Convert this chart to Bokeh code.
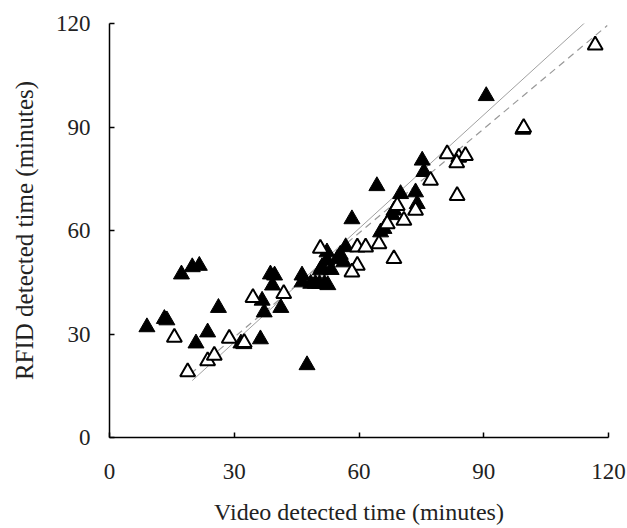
from bokeh.plotting import figure
from bokeh.models import Range1d, FixedTicker
from bokeh.embed import file_html
from bokeh.resources import INLINE

# Filled triangles (black)
filled_x = [9.0, 13.2, 13.8, 17.3, 19.9, 21.6, 20.8, 23.6, 26.2, 31.6, 32.3, 36.3,
            36.7, 37.2, 38.7, 39.7, 39.2, 41.2, 46.3, 46.3, 47.5, 48.4, 49.5, 50.5,
            51.7, 52.5, 50.7, 51.1, 52.3, 52.3, 53.3, 54.8, 56.3, 56.8, 55.5, 58.3,
            64.3, 65.2, 66.0, 68.4, 68.0, 70.0, 73.6, 74.0, 75.2, 75.6, 90.6]
filled_y = [32.0, 34.4, 34.0, 47.3, 49.4, 49.8, 27.3, 30.5, 37.6, 27.3, 27.1, 28.5,
            39.7, 36.3, 47.3, 47.0, 44.1, 37.6, 47.0, 45.0, 21.0, 44.6, 44.6, 44.6,
            44.6, 44.2, 48.5, 49.4, 51.3, 53.7, 48.6, 51.8, 50.8, 55.2, 53.0, 63.3,
            72.9, 59.5, 60.5, 65.8, 64.5, 70.6, 71.1, 67.7, 80.3, 77.0, 99.0]

# Open triangles
open_x = [15.6, 18.8, 23.6, 25.2, 28.8, 32.4, 34.5, 41.9, 50.7, 59.6, 61.6, 64.8,
          59.6, 58.3, 68.4, 70.8, 73.6, 69.2, 66.8, 77.2, 83.6, 81.2, 84.0, 85.6,
          83.5, 99.4, 99.6, 116.8]
open_y = [29.0, 19.0, 22.2, 23.8, 28.7, 27.5, 40.5, 41.7, 54.8, 55.2, 55.2, 56.1,
          49.9, 47.9, 51.8, 62.9, 65.8, 67.2, 61.9, 74.5, 70.1, 82.2, 81.2, 81.7,
          79.6, 89.3, 89.8, 113.7]

# Fitted (solid) and 1:1 (dashed) lines, end points
solid_x = [19.9, 115.0]
solid_y = [16.5, 121.0]
dashed_x = [19.5, 119.7]
dashed_y = [18.5, 119.4]

ticks = [0, 30, 60, 90, 120]
x_title = "Video detected time (minutes)"
y_title = "RFID detected time (minutes)"

FONT = "Liberation Serif"

p = figure(width=627, height=528, output_backend="svg", toolbar_location=None,
           x_range=Range1d(0, 120), y_range=Range1d(0, 120),
           min_border_left=109, min_border_right=19,
           min_border_top=23, min_border_bottom=91)
p.outline_line_color = None
p.grid.visible = False
p.background_fill_color = "white"
p.border_fill_color = "white"

p.line(solid_x, solid_y, line_color="#a0a0a0", line_width=1)
p.line(dashed_x, dashed_y, line_color="#999999", line_width=1.2, line_dash="7 5")

p.scatter(filled_x, filled_y, marker="triangle", size=16,
          fill_color="black", line_color="black", line_width=1)
p.scatter(open_x, open_y, marker="triangle", size=15,
          fill_color="white", line_color="black", line_width=2)

for ax in (p.xaxis[0], p.yaxis[0]):
    ax.ticker = FixedTicker(ticks=ticks)
    ax.minor_tick_line_color = None
    ax.major_tick_in = 5
    ax.major_tick_out = 0
    ax.axis_line_color = "black"
    ax.axis_line_width = 1.5
    ax.major_tick_line_width = 1.5
    ax.major_tick_line_color = "black"
    ax.major_label_text_font = FONT
    ax.major_label_text_font_size = "23px"
    ax.major_label_text_color = "#222222"
    ax.axis_label_text_font = FONT
    ax.axis_label_text_font_style = "normal"
    ax.axis_label_text_color = "#222222"

p.xaxis.axis_label = x_title
p.yaxis.axis_label = y_title
p.xaxis.axis_label_text_font_size = "24px"
p.yaxis.axis_label_text_font_size = "25px"
p.xaxis.major_label_standoff = 26
p.xaxis.axis_label_standoff = 17
p.yaxis.major_label_standoff = 19
p.yaxis.axis_label_standoff = 15

open("out.html", "w").write(file_html(p, INLINE))
